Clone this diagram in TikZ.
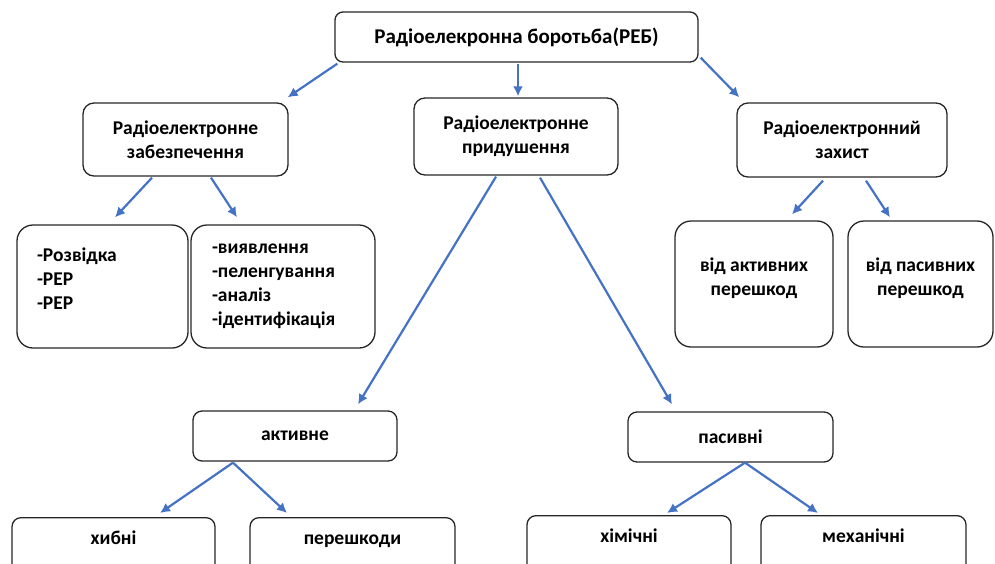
\documentclass[tikz,border=0pt]{standalone}
\usepackage{fontspec}
\setmainfont{Carlito}
\usepackage{tikz}
\usetikzlibrary{arrows.meta,shapes,positioning}
\tikzset{
  basic/.style  = {draw=black!85, line width=1.3pt, rectangle, font=\fontsize{19.5}{24}\selectfont\bfseries, inner sep=0pt},
  root/.style   = {basic, rounded corners=8pt, align=center, font=\fontsize{21}{24}\selectfont\bfseries},
  level 2/.style = {basic, rounded corners=11pt, align=center},
  level 3/.style = {basic, rounded corners=16pt, align=left, inner xsep=20pt},
  level 3c/.style = {basic, rounded corners=16pt, align=center},
  level 4/.style = {basic, rounded corners=9pt, align=center, minimum height=50pt},
  level 5/.style = {basic, rounded corners=9pt, align=center, anchor=north, text height=27pt, text depth=40pt},
  link/.style = {->, draw={rgb,255:red,68;green,114;blue,196}, line width=2.2pt}
}

\begin{document}
\begin{tikzpicture}[x=1pt, y=-1pt, >={Latex[length=10pt,width=10pt]}]
\useasboundingbox (0,0) rectangle (995,563);
\clip (0,0) rectangle (995,563);

% root
\node[root, minimum width=363pt, minimum height=50pt] (reb) at (516.5,37) {Радіоелекронна боротьба(РЕБ)};

% the first level
\node[level 2, minimum width=205pt, minimum height=73pt] (zab) at (185.5,139.5) {Радіоелектронне\\забезпечення};
\node[level 2, minimum width=204pt, minimum height=77pt] (prd) at (516,136.5) {Радіоелектронне\\придушення};
\node[level 2, minimum width=210pt, minimum height=74pt] (zah) at (842,140) {Радіоелектронний\\захист};

% the second level
\node[level 3, text width=131pt, minimum height=123pt, text depth=64pt] (rozv) at (102.5,286.5) {-Розвідка\\-РЕР\\-РЕР};
\node[level 3, text width=142pt, minimum height=123pt, inner xsep=21pt] (vyav) at (283,286.5) {-виявлення\\-пеленгування\\-аналіз\\-ідентифікація};
\node[level 3c, minimum width=158pt, minimum height=126pt, text depth=14pt] (vakt) at (754,284) {від активних\\перешкод};
\node[level 3c, minimum width=145pt, minimum height=126pt, text depth=14pt] (vpas) at (920.5,284) {від пасивних\\перешкод};

\node[level 4, minimum width=204pt] (akt) at (295,436) {активне};
\node[level 4, minimum width=205pt] (pas) at (730.5,437) {пасивні};

% the third level, cut by the lower edge
\node[level 5, minimum width=203pt] (hyb) at (113.5,517) {хибні};
\node[level 5, minimum width=205pt] (per) at (352.5,517) {перешкоди};
\node[level 5, minimum width=204pt] (him) at (629,515) {хімічні};
\node[level 5, minimum width=205pt] (meh) at (863.5,515) {механічні};

% connectors
\draw[link] ([shift={(3,1)}]reb.south west) -- ([shift={(-1,-5)}]zab.north east);
\draw[link] ([shift={(1.5,1)}]reb.south) -- ([shift={(2,-1)}]prd.north);
\draw[link] ([shift={(2,-5)}]reb.south east) -- ([shift={(3,-5)}]zah.north west);

\draw[link] ([shift={(-33.5,1)}]zab.south) -- ([shift={(12.5,-7)}]rozv.north);
\draw[link] ([shift={(25.5,1)}]zab.south) -- ([shift={(-46,-7)}]vyav.north);

\draw[link] ([shift={(-20,1)}]prd.south) -- ([shift={(63,-6)}]akt.north);
\draw[link] ([shift={(24,2)}]prd.south) -- ([shift={(-58.5,-7)}]pas.north);

\draw[link] ([shift={(-19,3)}]zah.south) -- ([shift={(38,-6)}]vakt.north);
\draw[link] ([shift={(24,3)}]zah.south) -- ([shift={(-30.5,-3)}]vpas.north);

\draw[link] ([shift={(-62,1)}]akt.south) -- ([shift={(46.5,-4)}]hyb.north);
\draw[link] ([shift={(-62,1)}]akt.south) -- ([shift={(-65.5,-4)}]per.north);
\draw[link] ([shift={(14.5,0)}]pas.south) -- ([shift={(38,-2)}]him.north);
\draw[link] ([shift={(14.5,0)}]pas.south) -- ([shift={(-45.5,-2)}]meh.north);
\end{tikzpicture}
\end{document}
